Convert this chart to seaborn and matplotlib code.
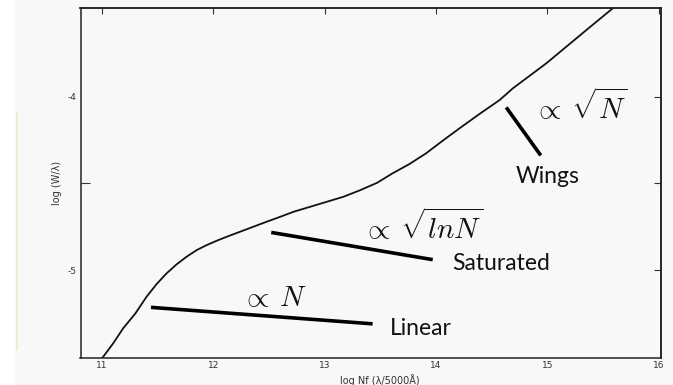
import numpy as np
import pandas as pd
import matplotlib
matplotlib.use("Agg")
import matplotlib.pyplot as plt
import seaborn as sns
from matplotlib.lines import Line2D
from matplotlib.patches import Rectangle

# curve of growth
log_nf = [11.00, 11.10, 11.19, 11.30, 11.40, 11.49, 11.58, 11.67, 11.76, 11.85,
          11.94, 12.03, 12.12, 12.24, 12.36, 12.48, 12.60, 12.72, 12.87, 13.02,
          13.17, 13.32, 13.47, 13.61, 13.76, 13.91, 14.06, 14.21, 14.39, 14.57,
          14.69, 14.99, 15.17, 15.35, 15.59]
log_w = [-5.509, -5.423, -5.336, -5.25, -5.154, -5.081, -5.019, -4.967, -4.923, -4.885,
         -4.856, -4.831, -4.808, -4.779, -4.75, -4.721, -4.693, -4.664, -4.635, -4.606,
         -4.577, -4.539, -4.497, -4.442, -4.389, -4.327, -4.254, -4.183, -4.10, -4.02,
         -3.952, -3.808, -3.712, -3.616, -3.489]

# annotation segments (start, end) for each regime
regimes = ["Linear", "Saturated", "Wings"]
seg_x = [(11.44, 13.43), (12.52, 13.97), (14.63, 14.94)]
seg_y = [(-5.215, -5.31), (-4.783, -4.94), (-4.062, -4.339)]
law_labels = [r"$\propto\:N$", r"$\propto\:\sqrt{lnN}$", r"$\propto\:\sqrt{N}$"]
law_pos = [(12.55, -5.16), (13.88, -4.75), (15.30, -4.058)]
name_pos = [(13.86, -5.335), (14.58, -4.96), (15.00, -4.46)]

x_ticks = [11, 12, 13, 14, 15, 16]
y_ticks = [-5, -4]

sns.set_theme(style="white")
plt.rcParams["font.family"] = ["DejaVu Sans"]
plt.rcParams["mathtext.fontset"] = "cm"

fig = plt.figure(figsize=(6.73, 3.85), dpi=100, facecolor="white")
fig.patches.append(Rectangle((15 / 673, 0), 1, 1, transform=fig.transFigure,
                             color="#f8f8f8", zorder=-10))
fig.lines.append(Line2D([17 / 673, 17 / 673], [1 - 350 / 385, 1 - 112 / 385],
                        transform=fig.transFigure, color="#f1e8cf", lw=1.2))
ax = fig.add_axes([80.5 / 673, 1 - 358 / 385, 580.5 / 673, 350 / 385])
ax.set_facecolor("none")

df = pd.DataFrame({"log_nf": log_nf, "log_w": log_w})
sns.lineplot(data=df, x="log_nf", y="log_w", ax=ax, sort=False, color="#111111",
             lw=1.3)

for (x0, x1), (y0, y1) in zip(seg_x, seg_y):
    ax.plot([x0, x1], [y0, y1], color="black", lw=2.6, solid_capstyle="butt")

for lab, (x, y) in zip(law_labels, law_pos):
    ax.text(x, y, lab, ha="center", va="center", fontsize=21, color="#111111")

for name, (x, y) in zip(regimes, name_pos):
    ax.text(x, y, name, ha="center", va="center", fontsize=16.5, color="#111111",
            family=["Lato", "DejaVu Sans"])

ax.set_xlim(10.807, 16.02)
ax.set_ylim(-5.507, -3.489)
ax.set_xticks(x_ticks)
ax.set_yticks(y_ticks)
ax.set_yticks([-4.5], minor=True)
ax.set_yticklabels(["-5", "-4"])
ax.tick_params(axis="x", direction="in", length=8.5, width=0.8, pad=2,
               labelsize=6.5, labelcolor="#333333", colors="#333333")
ax.tick_params(axis="y", which="major", direction="in", length=11, width=0.8, pad=3,
               labelsize=6.5, labelcolor="#333333", colors="#333333")
ax.tick_params(axis="y", which="minor", direction="in", length=6.5, width=0.8,
               left=True, colors="#333333")

top = ax.secondary_xaxis("top")
top.set_xticks(x_ticks)
top.set_xticklabels([])
top.tick_params(direction="in", length=4, width=0.8, colors="#333333")
right = ax.secondary_yaxis("right")
right.set_yticks(y_ticks)
right.set_yticks([-4.5], minor=True)
right.set_yticklabels([])
right.tick_params(which="both", direction="in", length=5, width=0.8, colors="#333333")

for a in (ax, top, right):
    for s in a.spines.values():
        s.set_color("#222222")
        s.set_linewidth(1.1)

ax.set_xlabel("log Nf (λ/5000Å)", fontsize=7, color="#333333")
ax.set_ylabel("log (W/λ)", fontsize=7, color="#333333")
ax.xaxis.set_label_coords((380 - 80.5) / 580.5, -0.047)
ax.yaxis.set_label_coords(-(80.5 - 62) / 580.5, 0.5)

fig.savefig("out.png", dpi=100, facecolor=fig.get_facecolor())
